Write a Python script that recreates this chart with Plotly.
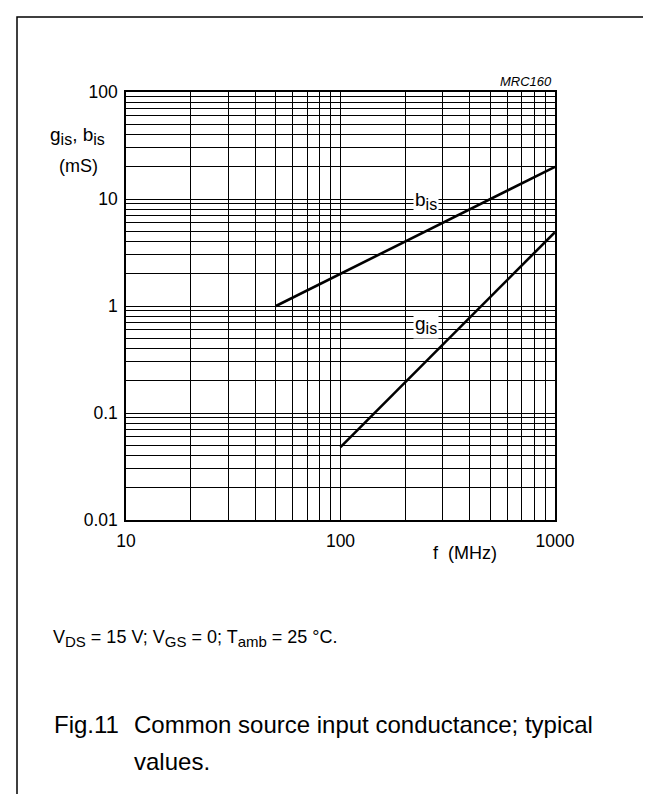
import math
import plotly.graph_objects as go

# ---- data ----
freq_b = [50, 1000]          # MHz
b_is = [1.0, 20.0]           # mS
freq_g = [100, 1000]         # MHz
g_is = [0.048, 4.9]          # mS

x_decades = [10, 100, 1000]
x_decade_labels = ["10", "100", "1000"]
y_decades = [0.01, 0.1, 1, 10, 100]
y_decade_labels = ["0.01", "0.1", "1", "10", "100"]

W, H = 651, 794
PL, PR, PT, PB = 118, 547, 84, 512   # plot area in px

def px(x):
    return (x - PL) / (PR - PL)

def py(y):
    return (PB - y) / (PB - PT)

def minor_vals(decades):
    vals = []
    for d in decades[:-1]:
        vals += [d * k for k in range(1, 10)]
    vals.append(decades[-1])
    return vals

xt = minor_vals(x_decades)
yt = minor_vals(y_decades)
xtt = [x_decade_labels[x_decades.index(v)] if v in x_decades else "" for v in xt]
ytt = [y_decade_labels[y_decades.index(v)] if v in y_decades else "" for v in yt]

FONT = "Arial, Liberation Sans, sans-serif"

def sub(s, size):
    return "<sub><span style='font-size:%dpx'>%s</span></sub>" % (size, s)

fig = go.Figure()
fig.add_trace(go.Scatter(x=freq_b, y=b_is, mode="lines",
                         line=dict(color="black", width=2.6), showlegend=False))
fig.add_trace(go.Scatter(x=freq_g, y=g_is, mode="lines",
                         line=dict(color="black", width=2.6), showlegend=False))

axis_common = dict(type="log", showgrid=True, gridcolor="black", gridwidth=1,
                   showline=True, linecolor="black", linewidth=1.5, mirror=True,
                   ticks="", zeroline=False,
                   tickfont=dict(family=FONT, size=17.5, color="black"))

fig.update_xaxes(range=[1, 3], tickmode="array", tickvals=xt, ticktext=xtt,
                 ticklabelstandoff=4, **axis_common)
fig.update_yaxes(range=[-2, 2], tickmode="array", tickvals=yt, ticktext=ytt,
                 ticklabelstandoff=3, **axis_common)

ann = []
def txt(t, x, y, size, xanchor="center", yanchor="middle", italic=False,
        xref="paper", yref="paper", bg=None):
    d = dict(text=t, x=x, y=y, xref=xref, yref=yref, showarrow=False,
             xanchor=xanchor, yanchor=yanchor,
             font=dict(family=FONT, size=size, color="black",
                       style="italic" if italic else "normal"))
    if bg:
        d["bgcolor"] = bg
        d["borderpad"] = 1
    ann.append(d)

# curve labels (data coords, log10 values)
txt("b" + sub("is", 16), math.log10(250), math.log10(9.6), 19, xref="x", yref="y", bg="white")
txt("g" + sub("is", 16), math.log10(250), math.log10(0.66), 19, xref="x", yref="y", bg="white")

# axis titles
txt("g" + sub("is", 16) + ", b" + sub("is", 16), px(69), py(128), 19)
txt("(mS)", px(70), py(158), 18)
txt("f  (MHz)", px(457), py(545), 18)
txt("MRC160", px(546), py(73), 13, xanchor="right", italic=True)

# conditions + caption
txt("V" + sub("DS", 15) + " = 15 V; V" + sub("GS", 15) + " = 0; T" + sub("amb", 15) + " = 25 °C.",
    px(43), py(630), 18, xanchor="left")
txt("Fig.11", px(44), py(716), 24, xanchor="left")
txt("Common source input conductance; typical", px(124), py(716), 24, xanchor="left")
txt("values.", px(124), py(753), 24, xanchor="left")

fig.update_layout(
    width=W, height=H,
    margin=dict(l=PL, r=W - PR, t=PT, b=H - PB, pad=0),
    paper_bgcolor="white", plot_bgcolor="white",
    annotations=ann,
    shapes=[dict(type="rect", xref="paper", yref="paper",
                 x0=px(9), x1=px(646), y0=py(820), y1=py(9),
                 line=dict(color="black", width=1.5), fillcolor="rgba(0,0,0,0)", layer="below")],
)

fig.write_html("out.html")
